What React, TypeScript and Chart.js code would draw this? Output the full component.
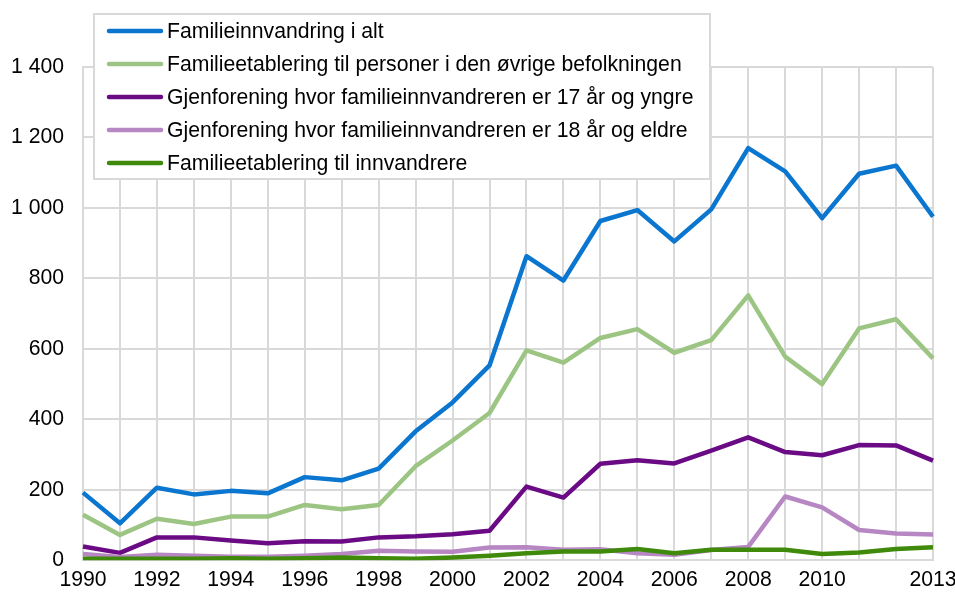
import React, { useEffect, useRef } from "react";
import { Chart, registerables } from "chart.js";

Chart.register(...registerables);

const years = [
  "1990", "1991", "1992", "1993", "1994", "1995", "1996", "1997", "1998", "1999", "2000", "2001",
  "2002", "2003", "2004", "2005", "2006", "2007", "2008", "2009", "2010", "2011", "2012", "2013",
];
const xTickLabels = ["1990", "1992", "1994", "1996", "1998", "2000", "2002", "2004", "2006", "2008", "2010", "2013"];
const yTicks = [0, 200, 400, 600, 800, 1000, 1200, 1400];

const totalLabel = "Familieinnvandring i alt";
const totalValues = [192, 105, 206, 187, 197, 190, 236, 227, 260, 366, 448, 553, 863, 794, 963, 994, 905, 996, 1170, 1104, 971, 1097, 1120, 975];

const otherPopLabel = "Familieetablering til personer i den øvrige befolkningen";
const otherPopValues = [129, 72, 118, 103, 124, 124, 157, 145, 157, 267, 340, 418, 596, 561, 631, 656, 589, 625, 752, 578, 500, 658, 684, 573];

const young17Label = "Gjenforening hvor familieinnvandreren er 17 år og yngre";
const young17Values = [39, 21, 65, 65, 56, 48, 54, 53, 65, 68, 74, 84, 209, 178, 274, 284, 275, 311, 349, 307, 298, 327, 326, 283];

const old18Label = "Gjenforening hvor familieinnvandreren er 18 år og eldre";
const old18Values = [18, 9, 16, 13, 10, 10, 13, 18, 27, 25, 24, 36, 37, 30, 31, 20, 16, 29, 38, 181, 150, 86, 76, 73];

const immigrantsLabel = "Familieetablering til innvandrere";
const immigrantsValues = [4, 4, 4, 4, 6, 4, 6, 8, 6, 4, 8, 13, 20, 25, 25, 32, 20, 30, 30, 30, 18, 22, 32, 37];

const colors = ["#0a76cf", "#9cc584", "#6a0a84", "#b787c4", "#3f8a0b"];
const FONT = "'Liberation Sans', Arial, sans-serif";
const FONT_SIZE = 21.2;

const legendPlugin = {
  id: "boxLegend",
  afterDraw(chart: any) {
    const ctx = chart.ctx;
    ctx.save();
    ctx.fillStyle = "#ffffff";
    ctx.fillRect(94, 14, 616, 165);
    ctx.strokeStyle = "#d9d9d9";
    ctx.lineWidth = 2;
    ctx.strokeRect(94, 14, 616, 165);
    ctx.font = `${FONT_SIZE}px ${FONT}`;
    ctx.textBaseline = "middle";
    ctx.textAlign = "left";
    chart.data.datasets.forEach((ds: any, i: number) => {
      const y = 31 + i * 33;
      ctx.strokeStyle = ds.borderColor;
      ctx.lineWidth = 4.5;
      ctx.lineCap = "round";
      ctx.beginPath();
      ctx.moveTo(109, y);
      ctx.lineTo(161, y);
      ctx.stroke();
      ctx.fillStyle = "#000000";
      ctx.fillText(ds.label, 167, y + 1);
    });
    ctx.restore();
  },
};

export default function App() {
  const canvasRef = useRef<HTMLCanvasElement | null>(null);

  useEffect(() => {
    document.body.style.margin = "0";
    const series = [
      [totalLabel, totalValues],
      [otherPopLabel, otherPopValues],
      [young17Label, young17Values],
      [old18Label, old18Values],
      [immigrantsLabel, immigrantsValues],
    ] as [string, number[]][];
    const chart = new Chart(canvasRef.current as HTMLCanvasElement, {
      type: "line",
      data: {
        labels: years,
        datasets: series.map(([label, data], i) => ({
          label,
          data,
          borderColor: colors[i],
          backgroundColor: colors[i],
          borderWidth: 4.5,
          pointRadius: 0,
          tension: 0,
          fill: false,
          order: series.length - i,
          borderCapStyle: "butt",
          borderJoinStyle: "round",
        })),
      },
      options: {
        animation: false,
        responsive: false,
        maintainAspectRatio: false,
        layout: { padding: { top: 67, right: 22, bottom: 0, left: 0 } },
        plugins: { legend: { display: false }, tooltip: { enabled: false } },
        scales: {
          x: {
            type: "category",
            offset: false,
            grid: { color: "#d9d9d9", lineWidth: 2, drawTicks: false },
            border: { color: "#d9d9d9", width: 2 },
            ticks: {
              autoSkip: false,
              maxRotation: 0,
              padding: 7,
              color: "#000",
              font: { family: FONT, size: FONT_SIZE },
              callback: (_v: any, idx: number) => (xTickLabels.includes(years[idx]) ? years[idx] : ""),
            },
            afterFit: (s: any) => {
              s.height = 29;
              s.paddingLeft = 0;
              s.paddingRight = 0;
            },
          },
          y: {
            min: 0,
            max: 1400,
            grid: { color: "#d9d9d9", lineWidth: 2, drawTicks: false },
            border: { color: "#d9d9d9", width: 2 },
            afterBuildTicks: (s: any) => {
              s.ticks = yTicks.map((v) => ({ value: v }));
            },
            ticks: {
              padding: 19,
              color: "#000",
              font: { family: FONT, size: FONT_SIZE },
              callback: (v: any) => String(v).replace(/\B(?=(\d{3})+(?!\d))/g, "\u00a0"),
            },
            afterFit: (s: any) => {
              s.width = 83;
            },
          },
        },
      },
      plugins: [legendPlugin],
    } as any);
    return () => chart.destroy();
  }, []);

  return (
    <div style={{ position: "fixed", left: 0, top: 0, width: 955, height: 592, background: "#fff" }}>
      <canvas ref={canvasRef} width={955} height={592} style={{ width: 955, height: 592 }} />
    </div>
  );
}
